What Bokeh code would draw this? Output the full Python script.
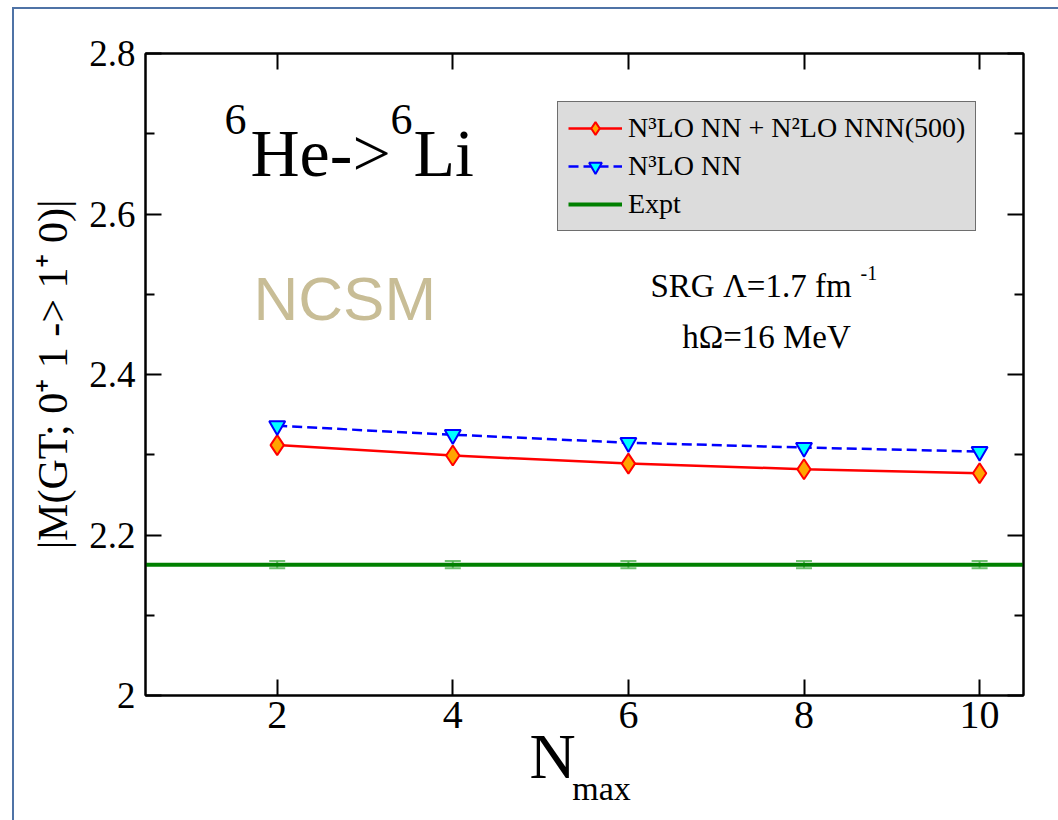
import numpy as np
from bokeh.plotting import figure
from bokeh.models import (ColumnDataSource, FixedTicker, LinearAxis, Range1d, Legend,
                          LegendItem, Label, Whisker, TeeHead, InlineStyleSheet)
from bokeh.embed import file_html
from bokeh.resources import INLINE

# ---------------- data ----------------
NMAX = [2, 4, 6, 8, 10]
GT_NN_NNN = [2.312, 2.299, 2.289, 2.282, 2.277]   # N3LO NN + N2LO NNN(500)
GT_NN = [2.336, 2.325, 2.315, 2.309, 2.304]       # N3LO NN
EXPT = 2.163
EXPT_ERR = 0.0045

X_TICKS = [2, 4, 6, 8, 10]
X_TICK_LABELS = ["2", "4", "6", "8", "10"]
Y_TICKS = [2.0, 2.2, 2.4, 2.6, 2.8]
Y_TICK_LABELS = ["2", "2.2", "2.4", "2.6", "2.8"]
Y_MINOR = [2.1, 2.3, 2.5, 2.7]
X_RANGE = (0.5, 10.5)
Y_RANGE = (2.0, 2.8)

SERIF = "Liberation Serif"

# frame geometry (pixels) used to place annotation texts
FL, FR, FT, FB = 145, 1023, 53, 695


def dx(px):
    return X_RANGE[0] + (px - FL) / (FR - FL) * (X_RANGE[1] - X_RANGE[0])


def dy(py):
    return Y_RANGE[0] + (FB - py) / (FB - FT) * (Y_RANGE[1] - Y_RANGE[0])


frame_css = InlineStyleSheet(css="""
:host { position: relative; }
:host::after {
  content: ""; position: absolute; left: 12px; top: 7px; right: 0px; bottom: 0px;
  border-left: 2.5px solid #4f73a6; border-top: 2.5px solid #4f73a6;
  pointer-events: none;
}
""")

p = figure(width=1058, height=820,
           x_range=Range1d(*X_RANGE), y_range=Range1d(*Y_RANGE),
           output_backend="svg", toolbar_location=None,
           min_border_left=FL, min_border_right=1058 - FR,
           min_border_top=FT, min_border_bottom=820 - FB,
           background_fill_color="white", border_fill_color="white",
           outline_line_color="black", outline_line_width=2,
           stylesheets=[frame_css])
p.xgrid.visible = False
p.ygrid.visible = False

xt = FixedTicker(ticks=X_TICKS, minor_ticks=[])
yt = FixedTicker(ticks=Y_TICKS, minor_ticks=Y_MINOR)


def style_axis(ax, ticker, labels=None, font_size="34px", standoff=10):
    ax.ticker = ticker
    ax.axis_line_width = 2
    ax.axis_line_color = "black"
    ax.major_tick_in = 16
    ax.major_tick_out = 0
    ax.minor_tick_in = 9
    ax.minor_tick_out = 0
    ax.major_tick_line_width = 2
    ax.minor_tick_line_width = 2
    ax.major_label_standoff = standoff
    if labels is None:
        ax.major_label_text_color = None
        ax.major_label_text_font_size = "1px"
        ax.major_label_standoff = 0
    else:
        ax.major_label_overrides = labels
        ax.major_label_text_font = SERIF
        ax.major_label_text_font_size = font_size
        ax.major_label_text_color = "black"


style_axis(p.xaxis[0], xt, dict(zip(X_TICKS, X_TICK_LABELS)), "40px", 6)
style_axis(p.yaxis[0], yt, dict(zip(Y_TICKS, Y_TICK_LABELS)), "37px", 10)

p.yaxis[0].axis_label = "|M(GT; 0\u207a 1 -> 1\u207a 0)|"
p.yaxis[0].axis_label_text_font = SERIF
p.yaxis[0].axis_label_text_font_style = "normal"
p.yaxis[0].axis_label_text_font_size = "42px"
p.yaxis[0].axis_label_text_color = "black"
p.yaxis[0].axis_label_standoff = 10

# x-axis title: "N" with subscript "max" (second, tick-less axis carries the subscript)
p.xaxis[0].axis_label = "N\u2003"
p.xaxis[0].axis_label_text_font = SERIF
p.xaxis[0].axis_label_text_font_style = "normal"
p.xaxis[0].axis_label_text_font_size = "64px"
p.xaxis[0].axis_label_text_color = "black"
p.xaxis[0].axis_label_standoff = -10

ax_sub = LinearAxis(ticker=FixedTicker(ticks=[], minor_ticks=[]),
                    axis_line_color=None, major_tick_line_color=None,
                    minor_tick_line_color=None, major_label_text_color=None,
                    major_label_text_font_size="1px", major_label_standoff=0,
                    major_tick_in=0, major_tick_out=0, minor_tick_in=0, minor_tick_out=0,
                    axis_label="\u2003max", axis_label_text_font=SERIF,
                    axis_label_text_font_style="normal", axis_label_text_font_size="34px",
                    axis_label_text_color="black", axis_label_standoff=-25)
p.add_layout(ax_sub, "below")

ax_r = LinearAxis()
style_axis(ax_r, yt)
p.add_layout(ax_r, "right")
ax_t = LinearAxis()
style_axis(ax_t, xt)
p.add_layout(ax_t, "above")

# ---------------- series ----------------
src = ColumnDataSource(dict(n=NMAX, a=GT_NN_NNN, b=GT_NN))
r_a_line = p.line("n", "a", source=src, line_color="red", line_width=2.5)
r_a_pts = p.scatter("n", "a", source=src, marker="diamond", size=20,
                    fill_color="orange", line_color="red", line_width=2)
r_b_line = p.line("n", "b", source=src, line_color="blue", line_width=2.5,
                  line_dash="10 5")
r_b_pts = p.scatter("n", "b", source=src, marker="inverted_triangle", size=16,
                    fill_color="cyan", line_color="blue", line_width=2)

r_exp = p.line(x=list(X_RANGE), y=[EXPT, EXPT], line_color="green", line_width=4)
esrc = ColumnDataSource(dict(n=NMAX, up=[EXPT + EXPT_ERR] * len(NMAX),
                             lo=[EXPT - EXPT_ERR] * len(NMAX)))
wcol = "#4cb24c"
p.add_layout(Whisker(base="n", upper="up", lower="lo", source=esrc,
                     line_color=wcol, line_alpha=0.8, line_width=2,
                     upper_head=TeeHead(size=16, line_color=wcol, line_alpha=0.8, line_width=2),
                     lower_head=TeeHead(size=16, line_color=wcol, line_alpha=0.8, line_width=2)))

legend = Legend(items=[
    LegendItem(label="N\u00b3LO NN + N\u00b2LO NNN(500)", renderers=[r_a_line, r_a_pts]),
    LegendItem(label="N\u00b3LO NN", renderers=[r_b_line, r_b_pts]),
    LegendItem(label="Expt", renderers=[r_exp]),
], location=(412, 464))
legend.background_fill_color = "#dcdcdc"
legend.background_fill_alpha = 1
legend.border_line_color = "black"
legend.border_line_width = 1.5
legend.label_text_font = SERIF
legend.label_text_font_size = "28px"
legend.label_text_color = "black"
legend.glyph_width = 54
legend.glyph_height = 32
legend.label_height = 32
legend.label_standoff = 6
legend.spacing = 6
legend.padding = 10
legend.margin = 0
p.add_layout(legend)

# ---------------- annotation texts ----------------
def lab(text, px, py, size, font=SERIF, color="black", align="left"):
    # py is the visual baseline; compensate for the renderer's baseline offset
    fs = float(size.replace("px", ""))
    p.add_layout(Label(x=dx(px), y=dy(py - 0.38 * fs), text=text, text_font=font,
                       text_font_size=size, text_color=color, text_align=align,
                       text_baseline="alphabetic"))


lab("6", 224, 136, "44px")
lab("He->", 250, 178, "68px")
lab("6", 390, 136, "44px")
lab("Li", 413, 178, "68px")

lab("NCSM", 253, 322, "62px", font="Liberation Sans", color="#c8bd96")

lab("SRG \u039b=1.7 fm", 650, 298, "33px")
lab("-1", 860, 280, "20px")
lab("h\u03a9=16 MeV", 766, 349, "33px", align="center")

open("out.html", "w").write(file_html(p, INLINE))
